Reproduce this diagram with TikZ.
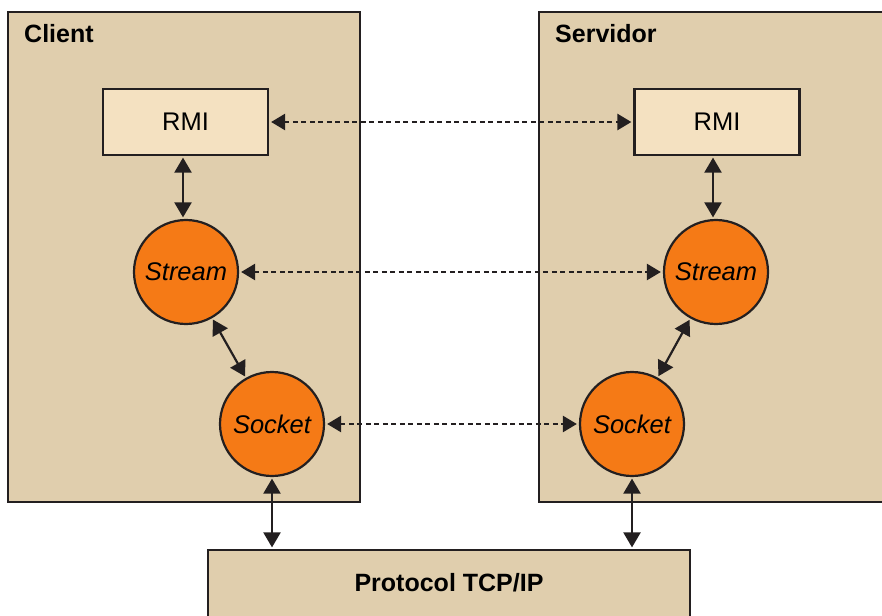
\documentclass[tikz,border=0pt]{standalone}
\usepackage{fontspec}
\setmainfont{Liberation Sans}
\usetikzlibrary{arrows.meta}
\definecolor{panelfill}{HTML}{E0CEAD}
\definecolor{rmifill}{HTML}{F4E1C1}
\definecolor{orangefill}{HTML}{F57A16}
\definecolor{ink}{HTML}{231F20}
\tikzset{
  panel/.style={draw=ink, line width=2.2pt, fill=panelfill, rectangle, inner sep=0pt},
  rmibox/.style={draw=ink, line width=2.2pt, fill=rmifill, rectangle, minimum width=165pt, minimum height=66pt, inner sep=0pt, font=\fontsize{25.5}{30}\selectfont},
  ball/.style={draw=ink, line width=2.2pt, fill=orangefill, circle, minimum size=104pt, inner sep=0pt, font=\fontsize{25.5}{30}\selectfont\itshape},
  title/.style={font=\fontsize{25}{30}\selectfont\bfseries, anchor=base west, inner sep=0pt},
  solidarrow/.style={draw=ink, line width=2.2pt, {Triangle[length=15pt,width=17pt]}-{Triangle[length=15pt,width=17pt]}, shorten <=1.5pt, shorten >=1.5pt},
  dotarrow/.style={draw=ink, line width=2.5pt, dash pattern=on 5pt off 3.5pt, {Triangle[length=14pt,width=16pt]}-{Triangle[length=14pt,width=16pt]}, shorten <=2pt, shorten >=2pt},
}
\begin{document}
\begin{tikzpicture}[x=1pt,y=-1pt]
\useasboundingbox (0,0) rectangle (882,615);
\clip (0,0) rectangle (882,615);
\fill[white] (0,0) rectangle (882,615);
% panels
\node[panel, minimum width=352pt, minimum height=490pt] (client) at (184,257) {};
\node[panel, minimum width=361pt, minimum height=490pt] (server) at (719.5,257) {};
\node[panel, minimum width=482pt, minimum height=70pt] (tcp) at (449,585) {};
\node[font=\fontsize{25}{30}\selectfont\bfseries, inner sep=0pt] (tcplbl) at (449,583) {Protocol TCP/IP};
\node[title] (clientlbl) at (24,43) {Client};
\node[title] (serverlbl) at (555,43) {Servidor};
% inner nodes
\node[rmibox] (rmic) at (185.5,122) {RMI};
\node[rmibox] (rmis) at (717,122) {RMI};
\node[ball] (strc) at (186,272) {Stream};
\node[ball] (strs) at (716,272) {Stream};
\node[ball] (sockc) at (272,424) {Socket};
\node[ball] (socks) at (632,424) {Socket};
% vertical / diagonal connectors
\draw[solidarrow] (rmic.south -| 183,0) -- (strc.north -| 183,0);
\draw[solidarrow] (rmis.south -| 713,0) -- (strs.north -| 713,0);
\draw[solidarrow] (strc) -- (sockc);
\draw[solidarrow] (strs) -- (socks);
\draw[solidarrow] (sockc.south) -- (sockc.south |- tcp.north);
\draw[solidarrow] (socks.south) -- (socks.south |- tcp.north);
% dotted connectors
\draw[dotarrow] (rmic.east) -- (rmis.west);
\draw[dotarrow] (strc.east) -- (strs.west);
\draw[dotarrow] (sockc.east) -- (socks.west);
\end{tikzpicture}
\end{document}
